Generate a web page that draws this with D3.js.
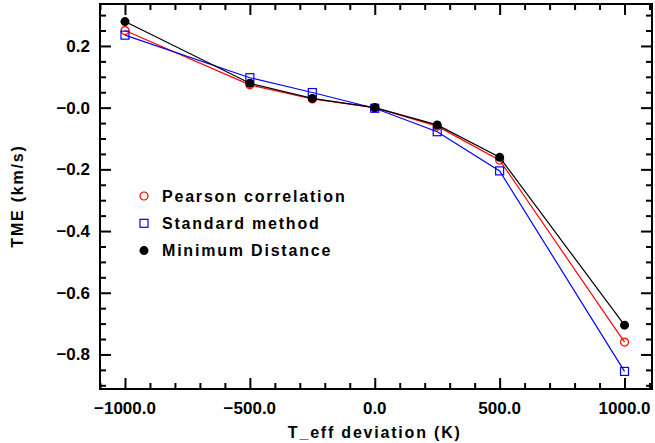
<!DOCTYPE html>
<html>
<head>
<meta charset="utf-8">
<script src="https://cdn.jsdelivr.net/npm/d3@7"></script>
<style>
  body { margin: 0; background: #fff; }
  .tick-lab { font-family: "Liberation Sans", Arial, sans-serif; font-weight: bold; font-size: 17px; }
  .title { font-family: "Liberation Sans", Arial, sans-serif; font-weight: bold; font-size: 16px; letter-spacing: 1.8px; }
</style>
</head>
<body>
<svg id="chart" width="655" height="443"></svg>
<script>
// data
const deviations = [-1000, -500, -250, 0, 250, 500, 1000]
const pearson  = [0.250, 0.074, 0.028, 0.000, -0.060, -0.170, -0.760]
const standard = [0.235, 0.097, 0.049, -0.002, -0.078, -0.205, -0.855]
const minDist  = [0.279, 0.079, 0.030, 0.000, -0.056, -0.161, -0.705]

const xMajor = [-1000, -500, 0, 500, 1000]
const xLabels = ["\u22121000.0", "\u2212500.0", "0.0", "500.0", "1000.0"]
const yMajor = [0.2, 0, -0.2, -0.4, -0.6, -0.8]
const yLabels = ["0.2", "\u22120.0", "\u22120.2", "\u22120.4", "\u22120.6", "\u22120.8"]

const series = [
    { name: "Pearson correlation", values: pearson, color: "#ff0000", marker: "circle" },
    { name: "Standard method", values: standard, color: "#0000ff", marker: "square" },
    { name: "Minimum Distance", values: minDist, color: "#000000", marker: "dot" }
]

const margin = { top: 4, right: 3, bottom: 54, left: 100 }
const W = 655, H = 443
const width = W - margin.left - margin.right
const height = H - margin.top - margin.bottom

const svg = d3.select("#chart")
const g = svg.append("g").attr("transform", `translate(${margin.left},${margin.top})`)

const x = d3.scaleLinear().domain([-1100, 1110]).range([0, width])
const y = d3.scaleLinear().domain([-0.912, 0.336]).range([height, 0])

const xMinor = d3.range(-1100, 1101, 100).filter(v => !xMajor.includes(v))
const yMinor = d3.range(-0.9, 0.31, 0.05).map(v => +v.toFixed(2)).filter(v => !yMajor.some(m => Math.abs(m - v) < 1e-6))

// ticks on all four sides, pointing in
function ticks(axisFn, scale, vals, size, tr) {
    const a = g.append("g").attr("transform", tr)
        .call(axisFn(scale).tickValues(vals).tickSize(-size).tickFormat(""))
    a.select(".domain").remove()
    a.selectAll("line").attr("stroke", "#000").attr("stroke-width", 2)
}
ticks(d3.axisBottom, x, xMajor, 11, `translate(0,${height})`)
ticks(d3.axisBottom, x, xMinor, 6, `translate(0,${height})`)
ticks(d3.axisTop, x, xMajor, 11, "translate(0,0)")
ticks(d3.axisTop, x, xMinor, 6, "translate(0,0)")
ticks(d3.axisLeft, y, yMajor, 11, "translate(0,0)")
ticks(d3.axisLeft, y, yMinor, 6, "translate(0,0)")
ticks(d3.axisRight, y, yMajor, 11, `translate(${width},0)`)
ticks(d3.axisRight, y, yMinor, 6, `translate(${width},0)`)

g.append("rect")
    .attr("width", width).attr("height", height)
    .attr("fill", "none").attr("stroke", "#000").attr("stroke-width", 2)

// tick labels
g.selectAll(".xl").data(xMajor).enter().append("text")
    .attr("class", "tick-lab")
    .attr("x", d => x(d)).attr("y", height + 25)
    .attr("text-anchor", "middle")
    .text((d, i) => xLabels[i])

g.selectAll(".yl").data(yMajor).enter().append("text")
    .attr("class", "tick-lab")
    .attr("x", -10).attr("y", d => y(d) + 6)
    .attr("text-anchor", "end")
    .text((d, i) => yLabels[i])

// axis titles
svg.append("text").attr("class", "title")
    .attr("x", margin.left + x(0)).attr("y", 438)
    .attr("text-anchor", "middle")
    .text("T_eff deviation (K)")

svg.append("text").attr("class", "title")
    .attr("transform", "translate(23,196) rotate(-90)")
    .attr("text-anchor", "middle")
    .text("TME (km/s)")

// lines and markers
const line = d3.line().x(d => x(d[0])).y(d => y(d[1]))

function marker(sel, s) {
    if (s.marker === "circle") {
        sel.append("circle").attr("r", 4).attr("fill", "none").attr("stroke", s.color).attr("stroke-width", 1.2)
    } else if (s.marker === "square") {
        sel.append("rect").attr("x", -4).attr("y", -4).attr("width", 8).attr("height", 8)
            .attr("fill", "none").attr("stroke", s.color).attr("stroke-width", 1.2)
    } else {
        sel.append("circle").attr("r", 4.5).attr("fill", s.color)
    }
}

series.forEach(s => {
    const pts = deviations.map((d, i) => [d, s.values[i]])
    g.append("path").datum(pts)
        .attr("d", line)
        .attr("fill", "none")
        .attr("stroke", s.color)
        .attr("stroke-width", 1.2)
    pts.forEach(p => {
        const m = g.append("g").attr("transform", `translate(${x(p[0])},${y(p[1])})`)
        marker(m, s)
    })
})

// legend
const legend = svg.append("g")
series.forEach((s, i) => {
    const yy = 196 + i * 27.3
    const m = legend.append("g").attr("transform", `translate(144,${yy})`)
    marker(m, s)
    legend.append("text").attr("class", "title")
        .attr("x", 162).attr("y", yy + 5.5)
        .text(s.name)
})
</script>
</body>
</html>
